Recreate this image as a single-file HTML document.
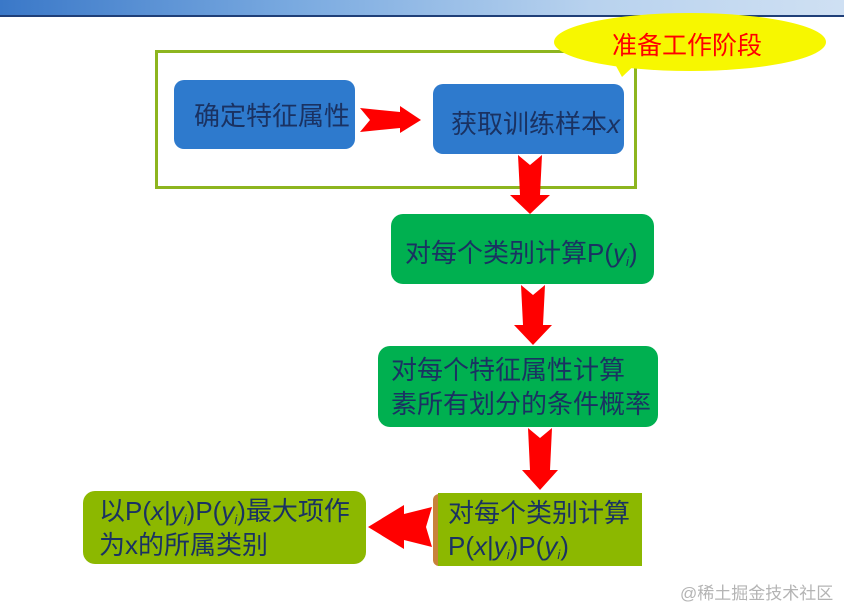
<!DOCTYPE html>
<html><head><meta charset="utf-8"><style>
*{margin:0;padding:0;box-sizing:border-box}
body{width:844px;height:605px;background:#fff;position:relative;overflow:hidden;font-family:"Liberation Sans","Noto Sans CJK SC",sans-serif}
.hdr{position:absolute;left:0;top:0;width:844px;height:17px;background:linear-gradient(90deg,#3a78c8 0%,#7aaae0 35%,#b8d2ee 70%,#cfe0f3 100%);border-bottom:2px solid #1f3f78}
.box{position:absolute;color:#1a3262;font-size:26px;display:flex;align-items:center}
.box>div{white-space:nowrap}
.b{background:#2e7acd;border-radius:10px}
.g{background:#00b050;border-radius:12px}
.o{background:#8cb800}
sub{font-size:13px;font-style:italic;vertical-align:-4px;line-height:0}
i{font-style:italic}
.frame{position:absolute;left:155px;top:50px;width:482px;height:139px;border:3px solid #8db51f}
.wm{position:absolute;left:680px;top:579px;font-size:17px;color:#b4b4b4}
</style></head><body>
<div class="hdr"></div>
<div class="frame"></div>
<svg width="844" height="605" style="position:absolute;left:0;top:0">
<ellipse cx="690" cy="42" rx="136" ry="29" fill="#f7f700"/>
<polygon points="610,55 640,60 622,77" fill="#f7f700"/>
<g fill="#ff0000">
<polygon points="360,108 400,112 400,106 421,120 400,133 400,128 360,132 370,120"/>
<polygon points="518,155 530,165 542,155 540,195 550,195 530,214 510,195 520,195"/>
<polygon points="521,285 533,295 545,285 543,325 552,325 533,345 514,325 523,325"/>
<polygon points="528,428 540,438 552,428 550,470 558,470 540,490 522,470 530,470"/>
<polygon points="432,507 426,527 432,547 404,540 404,549 368,527 404,505 404,514"/>
</g>
</svg>
<div style="position:absolute;left:612px;top:26px;font-size:25px;color:#ff0000;font-family:'Noto Sans CJK SC',sans-serif">准备工作阶段</div>
<div class="box b" style="left:174px;top:80px;width:181px;height:69px;padding-left:20px"><div>确定特征属性</div></div>
<div class="box b" style="left:433px;top:84px;width:191px;height:70px;padding-left:18px;padding-top:6px"><div>获取训练样本<i>x</i></div></div>
<div class="box g" style="left:391px;top:214px;width:263px;height:70px;padding-left:14px;padding-top:4px"><div>对每个类别计算P(<i>y</i><sub>i</sub>)</div></div>
<div class="box g" style="left:378px;top:346px;width:280px;height:81px;padding-left:13px;line-height:34px"><div>对每个特征属性计算<br>素所有划分的条件概率</div></div>
<div style="position:absolute;left:433px;top:494px;width:12px;height:72px;background:#c8823a;border-radius:6px 0 0 6px"></div>
<div class="box o" style="left:438px;top:493px;width:204px;height:73px;padding-left:10px;line-height:33px"><div>对每个类别计算<br>P(<i>x</i>|<i>y</i><sub>i</sub>)P(<i>y</i><sub>i</sub>)</div></div>
<div class="box o" style="left:83px;top:491px;width:283px;height:73px;border-radius:12px;padding-left:16px;line-height:34px"><div>以P(<i>x</i>|<i>y</i><sub>i</sub>)P(<i>y</i><sub>i</sub>)最大项作<br>为x的所属类别</div></div>
<div class="wm">@稀土掘金技术社区</div>
</body></html>
